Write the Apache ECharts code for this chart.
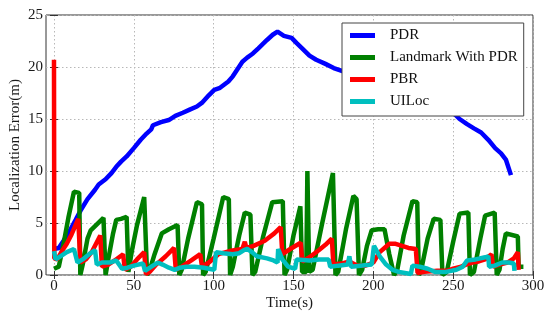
<!DOCTYPE html>
<html><head><meta charset="utf-8">
<script src="https://cdn.jsdelivr.net/npm/echarts@6/dist/echarts.min.js"></script>
<style>html,body{margin:0;padding:0;background:#fff}#c{width:550px;height:320px}</style>
</head><body><div id="c"></div>
<script>
const xTicks = [0, 50, 100, 150, 200, 250, 300];
const yTicks = [0, 5, 10, 15, 20, 25];
const seriesNames = ['PDR', 'Landmark With PDR', 'PBR', 'UILoc'];

const pdr = [[0,2.5],[3,2.6],[6,3.3],[10,4.3],[13.6,5.3],[17,6.3],[21,7.3],[25.7,8.2],[28,8.7],[32.3,9.2],[36,9.8],[39,10.4],[42,10.9],[45.5,11.4],[50,12.2],[54.3,13.0],[58,13.6],[60.9,14.0],[62,14.4],[63,14.5],[67,14.7],[71.9,14.9],[76,15.3],[80.7,15.6],[85,15.9],[89.5,16.2],[93,16.6],[97.1,17.3],[100.4,17.8],[104,18.0],[109.2,18.6],[112,19.1],[115,19.8],[118,20.5],[121,20.9],[124.6,21.3],[128,21.8],[133.4,22.6],[137,23.1],[140,23.4],[144,23.0],[148.8,22.8],[152,22.3],[155.4,21.8],[160,21.1],[164.2,20.7],[170,20.3],[175.2,19.9],[180.7,19.6],[188,19.2],[196,18.8],[205,18.3],[215,17.7],[225,17.1],[235,16.5],[243,16.1],[250,15.6],[254,15.0],[258.7,14.5],[263,14.1],[267.5,13.7],[272,13.0],[276.3,12.2],[280,11.7],[283,11.1],[286.2,9.6]];

const landmark = [[0,0.6],[3,0.8],[6,3.0],[9,5.5],[12.5,8.0],[15.8,7.9],[16.5,0],
[18,1.0],[21,3.5],[23,4.3],[27,4.9],[31,5.5],[32.3,0],
[34,1.5],[37,4.0],[39,5.3],[42,5.4],[45.5,5.6],[46.6,0.3],
[49,2.5],[52,4.8],[56.5,7.5],[57.5,7.4],[58.3,0],
[60,0.5],[63,2.0],[67.5,4.0],[72,4.4],[77.4,4.8],[78.5,0],
[80,0.5],[84,3.5],[89.5,7.0],[92.7,6.8],[93.4,0],
[95,0.3],[100,3.5],[106,7.5],[109.5,7.3],[110.3,0],
[112,0.8],[116,3.8],[119.5,6.0],[123,5.8],[124.3,0],
[126,0.3],[131,3.7],[136.7,7.0],[143.3,7.1],[144.4,0],
[146,0.5],[150,3.8],[154.3,6.6],[155.4,0.3],[158,0.3],[158.7,10.0],[159.8,0.3],
[162,0.5],[168,5.0],[174.7,9.8],[176.3,0],
[178,0.3],[183,4.5],[187.5,7.6],[189.5,7.3],[191,0],
[193,0.5],[196,2.8],[199,4.3],[203,4.4],[207,4.4],[210,2.0],[213,0],
[215,0.5],[219,3.8],[224.5,7.1],[227.5,7.0],[228.5,0],
[230,0.5],[234,3.5],[237.8,5.4],[242,5.3],[243.3,0],
[246,0.3],[250,3.2],[254,5.9],[259.5,6.0],[260.5,0],
[263,0.3],[267,3.5],[270,5.7],[276,6.0],[277.3,0],
[279,0.5],[281,2.5],[283,4.0],[290.5,3.7],[291,0.8],[294,0.8]];

const pbr = [[0,20.7],[0.2,1.6],[2,1.5],[5,2.3],[8,3.0],[11,3.9],[15.2,5.4],[16.5,1.2],
[20,1.5],[24,2.3],[29,3.8],[30,0.8],
[34,1.0],[38,1.4],[43.3,2.0],[44.4,0.5],
[48,0.8],[52,1.5],[56.5,2.2],[57.6,0.1],[60,0.3],
[64,1.0],[70,1.8],[75.2,2.6],[76.3,0.5],
[80,0.8],[86,1.4],[91.6,2.0],[92.7,0.8],
[97,1.2],[103,2.0],[110,2.3],[118,2.5],[119.5,3.2],[120.5,2.6],[125,2.8],[132,3.3],[138,4.0],[142,4.6],[143,2.0],
[148,2.5],[154.5,3.1],[155.5,1.3],
[160,1.7],[166,2.4],[170,2.9],[174,3.5],[175,1.0],
[180,1.1],[185,1.3],[190,0.9],[195,0.9],[200,1.2],[204,2.2],[207,2.6],[210,3.0],[214,3.0],[218,2.8],[222,2.6],[226.6,2.5],[227.7,0.2],
[232,0.3],[240,0.4],[246,0.4],[250,0.6],[255,0.8],[258,1.0],[262,1.2],[266,1.3],[270,1.5],[274,2.0],[275,0.8],
[279,1.0],[284,1.2],[288,1.6],[290.5,2.2],[291,0.5]];

const uiloc = [[0,2.3],[1,1.5],[4,1.8],[8,2.2],[12.5,2.5],[14.7,1.2],[18,1.5],[22,2.0],[25.7,2.4],[26.8,1.0],[30,1.2],[35,1.2],[39,1.4],[42.6,0.6],[46,0.7],[50,0.9],[55.8,1.1],[57,0.4],[61,0.8],[65,1.2],[68,1.0],[72,0.7],[75.6,0.5],[79,0.7],[83,0.8],[88,0.8],[94,0.7],[97,0.6],[100.4,0.5],[101.5,2.2],[106,2.1],[112,2.0],[116,2.1],[119,2.4],[121,2.5],[124,2.2],[127,1.8],[133.4,1.6],[137.5,1.4],[140,1.2],[140.4,2.5],[143,1.5],[146.6,0.8],[151,0.6],[152,1.5],[160,1.4],[166,1.5],[172,1.5],[173,0.8],[178,0.9],[184,1.0],[185,1.8],[186,0.8],[192,0.9],[199,1.0],[200.4,2.8],[204,1.8],[208,1.0],[212,0.5],[216,0.3],[223.5,0.1],[224.5,0.9],[229,0.8],[234,0.6],[238.6,0.3],[245.5,0.3],[252,0.5],[256,0.8],[258.7,1.4],[264,1.5],[270,1.7],[272,1.8],[272.5,0.8],[276,0.9],[280.7,1.2],[285,1.2],[288,1.1],[288.4,0.4]];

const colors = ['#0000ff', '#008000', '#ff0000', '#00bfbf'];
const FONT = 'Liberation Serif';
const chart = echarts.init(document.getElementById('c'), null, {renderer: 'canvas'});
const dotted = {show: true, lineStyle: {color: '#b8b8b8', type: [1.5, 2.5], width: 1}};
const xBase = {type: 'value', min: -5, max: 300,
  axisLine: {show: false},
  axisTick: {show: true, inside: true, length: 4, customValues: xTicks, lineStyle: {color: '#333'}},
  axisLabel: {show: true, customValues: xTicks, margin: 4, fontFamily: FONT, fontSize: 15, color: '#1a1a1a'},
  splitLine: dotted};
const yBase = {type: 'value', min: 0, max: 25, interval: 5,
  axisLine: {show: false},
  axisTick: {show: true, inside: true, length: 4, lineStyle: {color: '#333'}},
  axisLabel: {show: true, margin: 3, fontFamily: FONT, fontSize: 15, color: '#1a1a1a'},
  splitLine: dotted};
const option = {
  animation: false,
  backgroundColor: '#fff',
  grid: {left: 46, right: 17, top: 15, bottom: 45, outerBoundsMode: 'none', containLabel: false,
    show: true, borderColor: '#333', borderWidth: 1, backgroundColor: 'transparent'},
  xAxis: [
    Object.assign({}, xBase, {position: 'bottom', name: 'Time(s)', nameLocation: 'middle', nameGap: 21, nameMoveOverlap: false,
      nameTextStyle: {fontFamily: FONT, fontSize: 15, color: '#1a1a1a'}}),
    Object.assign({}, xBase, {position: 'top', axisLabel: {show: false, customValues: xTicks}, splitLine: {show: false}})
  ],
  yAxis: [
    Object.assign({}, yBase, {position: 'left', name: 'Localization Error(m)', nameLocation: 'middle', nameGap: 23, nameMoveOverlap: false,
      nameTextStyle: {fontFamily: FONT, fontSize: 15, color: '#1a1a1a'}}),
    Object.assign({}, yBase, {position: 'right', axisLabel: {show: false}, splitLine: {show: false}})
  ],
  legend: {
    orient: 'vertical', left: 342, top: 23,
    padding: [5, 6, 7, 8], itemGap: 7, itemWidth: 25, itemHeight: 5, icon: 'rect',
    backgroundColor: '#fff', borderColor: '#444', borderWidth: 1, borderRadius: 0,
    textStyle: {fontFamily: FONT, fontSize: 15, color: '#111', padding: [0, 0, 0, 10]},
    data: seriesNames
  },
  series: [pdr, landmark, pbr, uiloc].map((d, i) => ({
    name: seriesNames[i], type: 'line', data: d, showSymbol: false, symbol: 'none',
    color: colors[i], lineStyle: {width: 4.5, color: colors[i]}, itemStyle: {color: colors[i]},
    xAxisIndex: 0, yAxisIndex: 0
  }))
};
chart.setOption(option);
</script></body></html>
